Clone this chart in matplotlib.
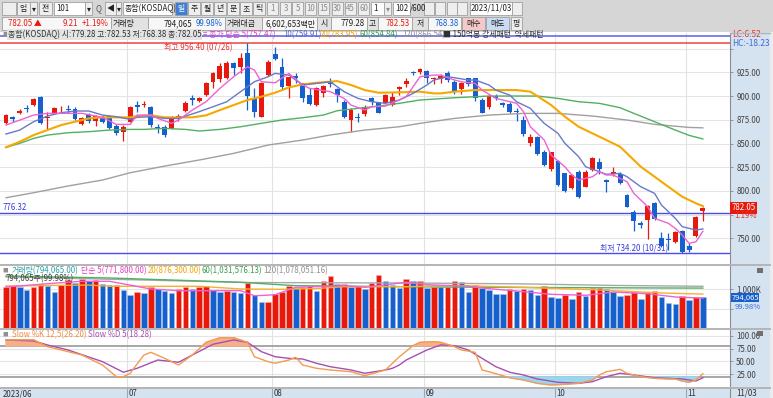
import numpy as np
import matplotlib
matplotlib.use('Agg')
from matplotlib import pyplot as plt
from matplotlib import transforms
from matplotlib.patches import Rectangle

plt.rcParams['font.family'] = ['Noto Sans CJK KR', 'DejaVu Sans']

W, H = 773, 398
FS = 5.7

# ---- 일봉 (2023-06-07 ~ 2023-11-03), 102개 ----
opens = [871.3, 878.3, 881.8, 887.0, 890.6, 899.4, 877.0, 881.8, 886.0, 886.0,
         886.4, 870.2, 880.0, 873.7, 878.3, 879.3, 868.8, 862.5, 873.0, 890.6,
         890.9, 888.8, 867.7, 867.7, 866.0, 876.5, 884.3, 898.3, 894.8, 901.0,
         915.2, 917.7, 918.7, 935.2, 931.0, 945.8, 897.6, 878.3, 922.3, 944.4,
         930.3, 910.6, 921.2, 913.4, 901.1, 890.6, 903.6, 915.2, 907.1, 894.1,
         874.8, 878.3, 880.7, 897.6, 892.4, 893.0, 890.6, 907.1, 912.4, 925.0,
         925.0, 926.8, 917.7, 918.0, 924.0, 915.2, 907.1, 918.7, 918.7, 895.9,
         888.1, 900.4, 892.4, 891.6, 884.3, 874.8, 850.2, 856.5, 841.4, 822.7,
         831.5, 818.5, 803.4, 820.3, 804.4, 822.0, 830.1, 811.5, 817.5, 817.5,
         795.7, 777.4, 765.8, 769.3, 787.6, 750.6, 749.2, 746.4, 757.7, 741.8,
         752.4, 779.28]
highs = [881.1, 879.0, 886.0, 890.6, 897.6, 900.1, 883.6, 888.8, 889.5, 890.6,
         888.8, 877.6, 881.8, 880.0, 880.0, 880.0, 870.2, 869.5, 889.5, 894.8,
         895.2, 889.5, 870.2, 869.5, 879.0, 881.1, 894.8, 901.1, 899.4, 914.5,
         925.7, 934.5, 937.0, 936.3, 945.1, 956.4, 908.2, 915.2, 938.1, 952.1,
         939.8, 920.5, 924.0, 914.1, 908.2, 909.9, 911.7, 918.7, 908.9, 895.9,
         887.1, 881.8, 890.6, 899.4, 894.1, 902.2, 904.7, 910.6, 919.4, 926.8,
         930.0, 927.5, 920.5, 922.9, 926.8, 917.0, 915.2, 919.4, 919.4, 897.6,
         901.1, 902.2, 894.1, 894.1, 887.1, 879.3, 859.6, 857.9, 843.1, 841.4,
         832.6, 819.2, 817.8, 822.0, 822.0, 836.1, 834.3, 812.2, 825.5, 820.3,
         796.4, 779.8, 768.2, 785.1, 788.6, 757.0, 755.2, 757.7, 758.7, 745.4,
         773.5, 782.53]
lows = [870.2, 873.0, 881.1, 883.6, 890.0, 870.2, 864.2, 881.1, 882.5, 882.5,
        874.8, 869.5, 871.3, 868.4, 871.3, 865.3, 858.9, 852.6, 872.3, 883.6,
        888.8, 867.7, 860.7, 856.5, 864.9, 874.1, 883.6, 890.6, 894.1, 900.4,
        908.2, 915.2, 917.7, 922.2, 924.0, 885.3, 878.3, 877.6, 921.5, 938.1,
        907.1, 897.6, 913.4, 894.1, 890.6, 889.5, 899.4, 909.9, 894.1, 876.5,
        862.5, 873.0, 879.0, 890.6, 881.8, 892.4, 889.5, 901.1, 909.9, 922.2,
        923.3, 913.4, 912.7, 913.4, 915.2, 902.2, 902.2, 910.6, 895.2, 881.8,
        886.0, 895.9, 888.8, 881.8, 874.1, 858.2, 847.4, 837.8, 826.2, 821.3,
        805.2, 799.2, 801.6, 792.1, 803.7, 821.3, 817.8, 799.2, 816.1, 806.9,
        782.6, 758.0, 760.5, 748.9, 769.3, 741.2, 737.6, 744.7, 734.2, 735.9,
        751.7, 768.38]
closes = [880.0, 875.5, 884.3, 886.0, 896.9, 872.0, 878.5, 887.1, 886.5, 885.0,
          875.5, 876.5, 873.7, 879.0, 873.0, 866.0, 860.7, 867.7, 888.8, 888.8,
          891.3, 869.5, 866.0, 859.0, 877.6, 879.0, 893.0, 896.0, 898.3, 913.4,
          924.0, 931.7, 934.5, 930.0, 939.8, 900.0, 883.6, 914.1, 936.3, 939.1,
          909.9, 919.8, 918.7, 897.6, 891.6, 908.2, 910.6, 912.7, 901.1, 877.6,
          885.3, 876.5, 888.1, 894.1, 882.5, 901.1, 899.4, 909.2, 915.9, 924.0,
          928.2, 919.4, 919.4, 921.2, 917.0, 904.7, 914.1, 912.4, 897.6, 882.5,
          900.1, 898.3, 890.6, 883.6, 882.9, 859.6, 857.2, 838.5, 827.3, 840.7,
          806.2, 800.2, 816.8, 793.9, 820.3, 835.0, 822.7, 809.7, 820.3, 808.0,
          783.4, 768.2, 763.7, 784.0, 770.0, 741.9, 747.8, 756.6, 735.2, 737.6,
          772.84, 782.05]
# 거래량 (천주)
volumes = [1059, 1085, 1055, 974, 1059, 1145, 1085, 930, 1103, 1233,
           1171, 1274, 1207, 1233, 1145, 1100, 1119, 970, 865, 922,
           897, 1067, 1008, 964, 904, 1008, 1067, 1008, 1067, 1093,
           990, 938, 964, 938, 904, 1163, 860, 664, 670, 879,
           922, 1093, 1034, 1052, 1093, 964, 1207, 1336, 1137, 1145,
           1067, 1085, 1005, 1175, 1365, 1225, 1110, 1045, 1262, 1214,
           1222, 1041, 1059, 1050, 1059, 1214, 1189, 930, 1103, 1034,
           974, 886, 871, 1000, 948, 1005, 978, 840, 1082, 805,
           788, 840, 746, 938, 819, 1026, 1030, 1020, 922, 835,
           840, 938, 749, 922, 964, 809, 646, 620, 835, 724,
           800, 794.065]

# 이동평균선 (화면에서 읽은 값)
ma5_idx = [0, 4, 6, 11, 14, 16, 18, 19, 21, 22, 24, 25, 27, 29, 31, 33, 35, 36, 37, 39,
           41, 43, 44, 47, 49, 50, 52, 53, 55, 57, 58, 59, 60, 62, 63, 65, 66, 68, 69, 71,
           72, 74, 75, 76, 78, 79, 81, 82, 83, 85, 86, 87, 88, 90, 91, 93, 94, 96, 97, 98,
           99, 100, 101]
ma5_val = [869.5, 880.0, 881.8, 881.8, 877.6, 870.2, 870.2, 880.0, 880.0, 876.5, 871.3, 874.8,
           885.3, 894.1, 908.2, 920.5, 931.0, 927.5, 915.2, 914.1, 924.0, 911.7, 908.2, 904.7,
           897.6, 890.6, 885.3, 888.8, 889.5, 895.9, 899.4, 909.9, 920.5, 922.2, 922.2, 917.0,
           915.2, 913.4, 906.4, 897.6, 895.9, 892.4, 883.6, 867.7, 853.7, 837.8, 825.5, 816.8,
           811.5, 815.0, 820.3, 816.8, 816.8, 809.7, 797.4, 783.4, 771.1, 765.8, 760.5, 753.5,
           744.7, 746.4, 757.47]
ma10_idx = [0, 2, 4, 6, 8, 10, 12, 14, 16, 18, 19, 21, 23, 25, 28, 30, 32, 34, 36, 38,
            39, 41, 43, 45, 47, 49, 51, 53, 55, 57, 59, 61, 62, 64, 65, 67, 68, 70, 71, 73,
            74, 76, 77, 78, 80, 81, 83, 84, 86, 87, 89, 90, 91, 92, 94, 95, 97, 98, 100, 101]
ma10_val = [860.0, 864.2, 873.0, 879.0, 882.5, 884.3, 884.3, 880.0, 878.3, 875.5, 877.6,
            878.3, 876.5, 876.5, 883.6, 888.8, 894.1, 904.7, 915.2, 920.5, 924.0, 922.2,
            911.7, 913.4, 915.2, 904.7, 897.6, 894.1, 892.4, 895.9, 902.9, 911.7, 917.0,
            920.5, 919.4, 917.0, 917.0, 911.7, 906.4, 901.1, 894.1, 887.1, 879.0, 871.3,
            860.7, 850.2, 836.1, 825.5, 820.3, 817.5, 818.5, 815.0, 809.7, 804.4, 797.4,
            785.1, 771.1, 762.3, 758.7, 759.91]
ma20_idx = [0, 2, 4, 6, 8, 10, 12, 14, 18, 19, 21, 23, 27, 29, 31, 33, 35, 37, 39, 41,
            43, 45, 47, 48, 50, 52, 54, 57, 60, 62, 63, 65, 68, 72, 74, 76, 77, 79, 81, 83,
            85, 87, 89, 90, 92, 94, 96, 98, 100, 101]
ma20_val = [846.0, 851.9, 858.9, 864.2, 869.5, 873.0, 876.5, 877.6, 877.6, 879.0, 879.7,
            877.6, 877.6, 879.7, 885.3, 890.6, 895.9, 899.4, 903.6, 909.2, 912.4, 914.1,
            915.2, 915.9, 911.7, 906.4, 903.6, 904.0, 904.7, 902.9, 902.9, 904.7, 906.4,
            906.4, 906.4, 904.7, 900.1, 890.6, 878.3, 867.7, 860.7, 853.7, 846.6, 839.6,
            825.5, 815.0, 804.4, 793.9, 786.9, 783.95]
ma60_idx = [0, 2, 4, 6, 9, 12, 15, 18, 20, 23, 26, 28, 31, 34, 37, 40, 43, 46, 48, 51,
            54, 57, 60, 65, 70, 77, 80, 83, 86, 89, 91, 94, 97, 99, 101]
ma60_val = [846.0, 850.2, 855.4, 858.9, 861.4, 862.5, 864.2, 864.9, 864.9, 866.0, 864.9,
            863.2, 864.9, 867.7, 871.3, 874.8, 877.2, 880.0, 884.6, 887.1, 889.5, 892.4,
            895.9, 898.3, 900.1, 900.1, 897.6, 894.1, 892.4, 887.8, 881.8, 873.0, 864.2,
            858.6, 854.84]
ma120_idx = [0, 4, 9, 14, 18, 23, 28, 33, 38, 43, 47, 52, 57, 60, 65, 70, 75, 80, 85, 90,
             94, 99, 101]
ma120_val = [792.8, 798.1, 805.2, 811.5, 819.2, 826.2, 832.6, 839.6, 848.4, 853.7, 859.0,
             864.2, 867.7, 871.3, 876.5, 880.0, 881.8, 881.8, 879.0, 874.8, 870.2, 867.0,
             866.54]

# 거래량 이동평균 (천주)
vma5_idx = [0, 6, 11, 15, 21, 25, 34, 36, 37, 39, 42, 49, 52, 58, 61, 67, 70, 74, 79, 84,
            88, 93, 97, 101]
vma5_val = [1059, 1145, 1207, 1207, 1008, 964, 964, 835, 840, 860, 1052, 1093, 1052, 1181,
            1119, 1078, 1016, 956, 871, 845, 930, 886, 801, 771.8]
vma20_idx = [0, 12, 15, 28, 34, 40, 45, 49, 58, 65, 75, 85, 95, 101]
vma20_val = [1085, 1110, 1078, 1078, 1008, 1000, 1020, 1067, 1067, 1100, 1050, 990, 905, 876.3]
vma60_idx = [0, 15, 34, 42, 58, 70, 85, 95, 101]
vma60_val = [1344, 1292, 1181, 1093, 1067, 1052, 1041, 1034, 1031.6]
vma120_idx = [0, 20, 35, 58, 75, 88, 101]
vma120_val = [1320, 1240, 1175, 1163, 1140, 1100, 1078.1]

# Slow Stochastic
k_idx = [0, 4, 6, 9, 11, 14, 16, 17, 18, 19, 20, 21, 23, 25, 27, 29, 31, 33, 35, 36,
         38, 39, 41, 42, 43, 45, 47, 50, 52, 55, 56, 57, 59, 60, 62, 63, 65, 66, 68, 69,
         70, 72, 73, 75, 77, 79, 81, 83, 85, 86, 87, 89, 90, 92, 94, 96, 97, 98, 99, 100, 101]
k_val = [91.7, 92.0, 78.7, 69.0, 62.5, 43.0, 20.4, 20.4, 27.0, 45.0, 62.5, 67.7, 56.0, 43.0,
         62.5, 87.0, 96.0, 96.0, 87.0, 59.0, 49.5, 46.4, 52.8, 58.0, 43.0, 36.7, 33.4, 30.0,
         22.3, 33.4, 46.4, 59.0, 80.6, 87.0, 88.3, 87.0, 78.7, 72.2, 67.7, 33.4, 30.0, 22.3,
         18.4, 14.0, 7.5, 4.3, 5.6, 7.5, 14.0, 23.7, 30.0, 34.7, 27.0, 20.4, 17.2, 16.0, 16.0,
         12.0, 9.5, 14.0, 26.2]
d_idx = [0, 4, 6, 9, 14, 17, 19, 22, 25, 27, 30, 33, 35, 37, 39, 41, 43, 45, 47, 50,
         52, 55, 56, 57, 58, 61, 63, 65, 67, 69, 71, 73, 75, 77, 80, 83, 85, 87, 89, 91,
         94, 96, 98, 100, 101]
d_val = [91.7, 89.7, 82.0, 72.2, 49.5, 29.0, 36.7, 52.8, 48.3, 62.5, 83.3, 91.7, 87.0, 69.0,
         59.2, 56.0, 54.7, 46.4, 39.8, 33.4, 27.0, 33.4, 36.7, 43.0, 52.8, 72.2, 82.0, 80.6,
         72.2, 56.0, 39.8, 29.0, 23.7, 16.0, 9.5, 7.5, 10.7, 20.4, 27.0, 23.7, 18.4, 17.2,
         16.0, 12.0, 18.28]

month_idx = [18, 39, 61, 80, 99]
month_lbl = ['07', '08', '09', '10', '11']
line_776 = 776.32
line_top = 963.4

RED, BLUE = '#e8190c', '#1560cc'
PANEL = '#d5e2f0'


def px_box(x0, y0, x1, y1):
    return [x0 / W, 1 - y1 / H, (x1 - x0) / W, (y1 - y0) / H]


fig = plt.figure(figsize=(W / 100, H / 100), dpi=100)

bg = fig.add_axes([0, 0, 1, 1], zorder=-10)
bg.set_xlim(0, W)
bg.set_ylim(H, 0)
bg.axis('off')
bg.add_patch(Rectangle((0, 0), W, 32, fc='#d6d6d6', ec='none'))
bg.add_patch(Rectangle((730, 32), 40, H - 32, fc=PANEL, ec='none'))
bg.add_patch(Rectangle((770, 32), 3, H - 32, fc='#ececec', ec='none'))


def btn(x0, x1, y0, y1, text='', fc='#eeeeee', ec='#a0a0a0', color='#202020', ha='center'):
    bg.add_patch(Rectangle((x0, y0), x1 - x0, y1 - y0, fc=fc, ec=ec, lw=0.6))
    if text:
        tx = {'center': (x0 + x1) / 2, 'left': x0 + 2, 'right': x1 - 2}[ha]
        bg.text(tx, (y0 + y1) / 2, text, ha=ha, va='center', fontsize=FS, color=color)


# 1행 툴바
btn(2, 16, 2, 15)
btn(17, 30, 2, 15, '업')
btn(30, 37, 2, 15, '▾')
btn(39, 52, 2, 15, '전')
btn(54, 85, 2, 15, '101', fc='white', ha='left')
btn(85, 92, 2, 15, '▾')
bg.text(98, 8.5, 'Q', ha='center', va='center', fontsize=FS, color='#555')
btn(105, 116, 2, 15, '◀')
btn(116, 121, 2, 15, '▾')
btn(123, 172, 2, 15, '종합(KOSDAQ)', fc='white', ha='left')
for j, s in enumerate(['일', '주', '월', '년', '분', '초', '틱']):
    x0 = 175 + 13 * j
    if j == 0:
        btn(x0, x0 + 12, 2, 15, s, fc='#3d7fd6', color='white')
    else:
        btn(x0, x0 + 12, 2, 15, s)
for x0, s in zip([267, 280, 292, 305, 318, 332, 345, 358],
                 ['1', '3', '5', '10', '15', '30', '45', '60']):
    btn(x0, x0 + 11, 2, 15, s, color='#8a8a8a')
btn(371, 384, 2, 15, '1', fc='white', ha='left')
btn(384, 391, 2, 15, '▾', color='#8a8a8a')
btn(393, 410, 2, 15, '102', fc='white', ha='right')
bg.text(410, 8.5, '/600', ha='left', va='center', fontsize=FS, color='#202020')
for x0 in [424, 435, 447, 457]:
    btn(x0, x0 + 10, 2, 15, '')
btn(470, 512, 2, 15, '2023/11/03', fc='white')
btn(512, 522, 2, 15, '')

# 2행 시세
btn(2, 111, 17, 30, fc='#f7f7f7')
bg.text(8, 23.5, '782.05 ▲', ha='left', va='center', fontsize=FS, color=RED)
bg.text(78, 23.5, '9.21', ha='right', va='center', fontsize=FS, color=RED)
bg.text(109, 23.5, '+1.19%', ha='right', va='center', fontsize=FS, color=RED)
btn(111, 148, 17, 30, '거래량', fc='#e2e2e2', ha='left')
btn(148, 225, 17, 30, fc='#f7f7f7')
bg.text(192, 23.5, '794,065', ha='right', va='center', fontsize=FS, color='#202020')
bg.text(223, 23.5, '99.98%', ha='right', va='center', fontsize=FS, color=BLUE)
btn(225, 262, 17, 30, '거래대금', fc='#e2e2e2', ha='left')
btn(262, 317, 17, 30, '6,602,653백만', fc='#f7f7f7', ha='right')
btn(317, 331, 17, 30, '시', fc='#e2e2e2')
btn(331, 367, 17, 30, '779.28', fc='#f7f7f7', ha='right')
btn(367, 378, 17, 30, '고', fc='#e2e2e2')
btn(378, 412, 17, 30, '782.53', fc='#f7f7f7', ha='right', color=RED)
btn(412, 428, 17, 30, '저', fc='#e2e2e2')
btn(428, 461, 17, 30, '768.38', fc='#f7f7f7', ha='right', color=BLUE)
btn(462, 485, 17, 30, '매수', fc='#f3c9c9')
btn(486, 509, 17, 30, '매도', fc='#c9dcf3')
btn(511, 522, 17, 30, '평')

# ---- 차트 영역 ----
ax = fig.add_axes(px_box(0, 33, 730, 264))
vax = fig.add_axes(px_box(0, 266, 730, 328), sharex=ax)
sax = fig.add_axes(px_box(0, 330, 730, 388), sharex=ax)
dax = fig.add_axes(px_box(0, 388, 730, 398), sharex=ax)

o = np.array(opens)
h = np.array(highs)
l = np.array(lows)
c = np.array(closes)
v = np.array(volumes)
x = np.arange(len(c))

for a in (ax, vax, sax, dax):
    for side in ('top', 'left', 'bottom'):
        a.spines[side].set_visible(False)
    a.spines['right'].set_color('#8c8c8c')
    a.yaxis.tick_right()
    a.tick_params(axis='y', which='both', direction='out', length=2.5, width=0.6, pad=2,
                  labelsize=FS, colors='#8c8c8c', labelcolor='#404040')
    a.tick_params(axis='x', bottom=False, labelbottom=False)
    for m in month_idx:
        a.axvline(m - 0.45, color='#e2e2e2', lw=0.8, zorder=0)
ax.set_xlim(-0.87, 104.93)

# 가격 패널 (775, 950 눈금 글자는 현재가/LC·HC 표시에 가려짐)
ax.set_ylim(722.9, 966.6)
ax.set_yticks([750, 800, 825, 850, 875, 900, 925])
ax.set_yticks([775, 950], minor=True)
ax.yaxis.set_major_formatter(plt.FuncFormatter(lambda val, _: f'{val:.2f}'))
ax.grid(axis='y', which='both', color='#e4e4e4', lw=0.8, zorder=0)

col = np.where(c >= o, RED, BLUE)
ax.vlines(x, l, h, colors=col, lw=0.9, zorder=3)
ax.bar(x, np.maximum(np.abs(c - o), 0.9), bottom=np.minimum(o, c), width=0.72,
       color=col, zorder=3)

ax.plot(ma120_idx, ma120_val, color='#a0a0a0', lw=1.0, zorder=4)
ax.plot(ma60_idx, ma60_val, color='#52b060', lw=1.0, zorder=4)
ax.plot(ma20_idx, ma20_val, color='#f5a800', lw=1.5, zorder=4)
ax.plot(ma10_idx, ma10_val, color='#6a78c8', lw=1.0, zorder=4)
ax.plot(ma5_idx, ma5_val, color='#ee62d4', lw=1.0, zorder=4)

ax.axhline(line_top, color='#6a6ae8', lw=1.2, zorder=2)
ax.axhline(h.max(), color='#f05050', lw=1.2, zorder=2)
ax.axhline(line_776, color='#4a4af0', lw=1.0, zorder=2)
ax.axhline(l.min(), color='#4a4af0', lw=1.0, zorder=2)
ax.text(-0.5, line_776 + 1.2, f'{line_776:.2f}', color='#3a3ae0', fontsize=FS,
        ha='left', va='bottom')

imax, imin = int(h.argmax()), int(l.argmin())
ax.annotate(f'최고 {h.max():.2f} (07/26)', (imax, h.max()), xytext=(-10.5, -3.4),
            textcoords='offset points', ha='right', va='center', fontsize=FS, color='#e83030')
ax.annotate(f'최저 {l.min():.2f} (10/31)', (imin, l.min()), xytext=(-10, 3.2),
            textcoords='offset points', ha='right', va='center', fontsize=FS, color='#3a3ae0')

tr = transforms.blended_transform_factory(ax.transAxes, ax.transData)
ax.text(1.002, c[-1], f'{c[-1]:.2f}', transform=tr, fontsize=FS, color='white', va='center',
        bbox=dict(boxstyle='square,pad=0.2', fc=RED, ec='none'), zorder=6)
ax.text(1.006, 774.0, '1.19%', transform=tr, fontsize=FS, color='#e83030', va='center',
        zorder=6)
ax.text(1.003, 964.9, 'LC:6.52', transform=tr, fontsize=FS + 0.3, color='#e83030', va='center',
        zorder=6)
ax.text(1.003, 955.4, 'HC:-18.23', transform=tr, fontsize=FS + 0.3, color='#3a6ae0', va='center',
        zorder=6)

# 거래량 패널 (500,000 눈금 글자는 비율 표시에 가려짐)
vax.set_ylim(0, 1602)
vax.set_yticks([1010])
vax.set_yticklabels(['1,000K'])
vax.set_yticks([500], minor=True)
vax.grid(axis='y', which='both', color='#e4e4e4', lw=0.8, zorder=0)
vup = np.r_[True, v[1:] > v[:-1]]
vax.bar(x, v, width=0.8, color=np.where(vup, RED, BLUE),
        edgecolor=np.where(vup, '#f6b4ac', '#a9c3ec'), linewidth=0.4, zorder=3)
vax.plot(vma120_idx, vma120_val, color='#a8a8a8', lw=1.0, zorder=4)
vax.plot(vma60_idx, vma60_val, color='#52b060', lw=1.0, zorder=4)
vax.plot(vma20_idx, vma20_val, color='#f5b030', lw=1.0, zorder=4)
vax.plot(vma5_idx, vma5_val, color='#ee62d4', lw=1.0, zorder=4)
vtr = transforms.blended_transform_factory(vax.transAxes, vax.transData)
vax.text(1.002, v[-1] - 15, f'{v[-1] * 1000:,.0f}', transform=vtr, fontsize=FS - 0.2,
         color='white', va='center',
         bbox=dict(boxstyle='square,pad=0.05', fc=BLUE, ec='none'), zorder=6)
vax.text(1.006, 555, '99.98%', transform=vtr, fontsize=FS - 0.2, color='#3a6ae0', va='center',
         zorder=6)

# 스토캐스틱 패널
sax.set_ylim(-1.55, 111)
sax.set_yticks([25, 50, 75, 100])
sax.yaxis.set_major_formatter(plt.FuncFormatter(lambda val, _: f'{val:.2f}'))
sax.grid(axis='y', color='#e4e4e4', lw=0.8, zorder=0)
sax.axhline(80, color='#a0a0a0', lw=1.3, zorder=1)
sax.axhline(20, color='#a0a0a0', lw=1.3, zorder=1)
kx, ky = np.array(k_idx), np.array(k_val)
sax.fill_between(kx, ky, 80, where=ky >= 80, interpolate=True, color='#f5b08a', zorder=2)
sax.fill_between(kx, ky, 20, where=ky <= 20, interpolate=True, color='#9ad6ee', zorder=2)
sax.plot(d_idx, d_val, color='#a550b0', lw=1.0, zorder=3)
sax.plot(k_idx, k_val, color='#f59a50', lw=1.0, zorder=4)

# 날짜 축
dax.set_facecolor(PANEL)
dax.set_ylim(0, 1)
dax.set_yticks([])
dtr = transforms.blended_transform_factory(dax.transData, dax.transAxes)
dax.text(-0.5, 0.45, '2023/06', transform=dtr, fontsize=FS, color='#303030', va='center')
for m, s in zip(month_idx, month_lbl):
    dax.axvline(m - 0.45, color='#9aa8b8', lw=0.8)
    dax.text(m - 0.2, 0.45, s, transform=dtr, fontsize=FS, color='#303030', va='center')

# ---- 범례 / 구분선 ----
ui = fig.add_axes([0, 0, 1, 1], zorder=20)
ui.set_xlim(0, W)
ui.set_ylim(H, 0)
ui.axis('off')
for yy in (265, 329, 388):
    ui.plot([0, 770], [yy, yy], color='#b4b4b4', lw=1.4)
ui.plot([730, 770], [33, 33], color='#b4b4b4', lw=1.0)


def leg(xx, yy, s, color):
    ui.text(xx, yy, s, fontsize=FS, color=color, ha='left', va='center')


ui.text(2, 34.5, '■', fontsize=4, color='#909090', va='center')
ui.text(8, 34.7, '종합(KOSDAQ) 시:779.28 고:782.53 저:768.38 종:782.05', fontsize=FS,
        color='#303030', va='center',
        bbox=dict(boxstyle='square,pad=0.1', fc='#e4e4e4', ec='none'))
leg(203, 34.7, f'= 종가 단순 5({ma5_val[-1]:.2f})', '#e040c0')
leg(283, 34.7, f'10({ma10_val[-1]:.2f})', '#5a6acc')
leg(320, 34.7, f'20({ma20_val[-1]:.2f})', '#f0a500')
leg(360, 34.7, f'60({ma60_val[-1]:.2f})', '#3a9a50')
leg(402, 34.7, f'120({ma120_val[-1]:.2f})', '#909090')
leg(443, 34.7, '■ 150억봉 강세패턴  약세패턴', '#303030')

ui.text(2, 270.3, '■', fontsize=4, color='#909090', va='center')
leg(12, 270.3, '거래량(794,065.00)', '#2aa0a0')
leg(81, 270.3, f'단순 5({vma5_val[-1] * 1000:,.2f})', '#e040c0')
leg(148, 270.3, f'20({vma20_val[-1] * 1000:,.2f})', '#f0a500')
leg(202, 270.3, '60(1,031,576.13)', '#3a9a50')
leg(263, 270.3, '120(1,078,051.16)', '#909090')
leg(6, 278.8, '794,065주(99.98%)', '#404040')

ui.text(2, 334.5, '■', fontsize=4, color='#909090', va='center')
leg(12, 334.8, f'Slow %K 12,5({k_val[-1]:.2f})', '#f08a40')
leg(88, 334.8, f'Slow %D 5({d_val[-1]:.2f})', '#a550b0')

for yy in (270, 333):
    ui.add_patch(Rectangle((757, yy - 2.5), 6, 5, fc='#707070', ec='none'))
ui.text(736, 393, '11/03', fontsize=FS, color='#303030', va='center')

fig.savefig('out.png', dpi=100)
